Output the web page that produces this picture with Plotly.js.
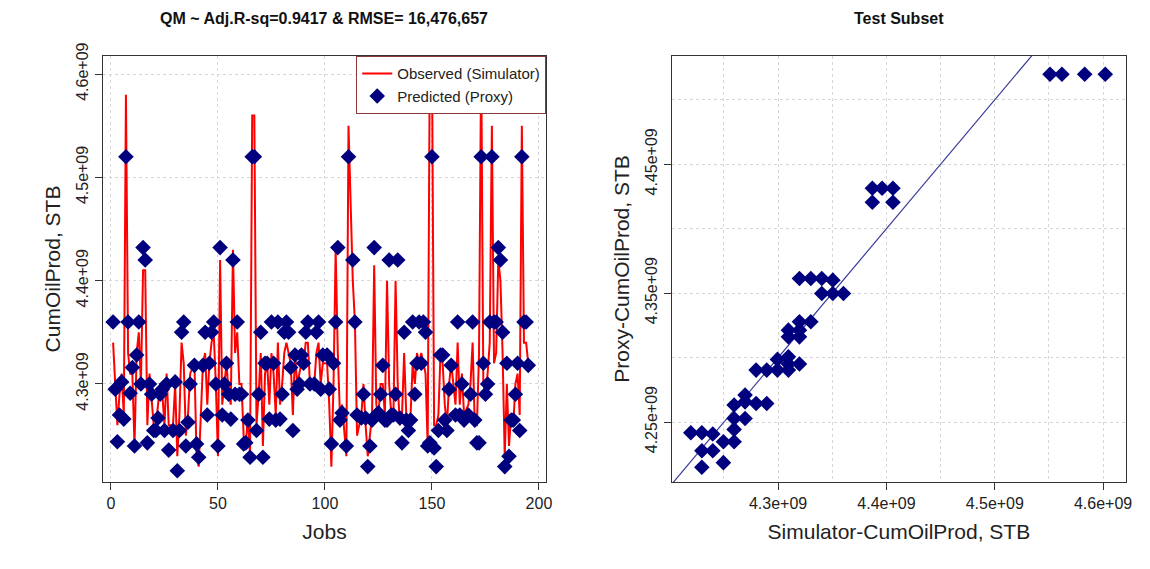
<!DOCTYPE html>
<html>
<head>
<meta charset="utf-8">
<script src="https://cdn.plot.ly/plotly-3.0.1.min.js"></script>
<style>html,body{margin:0;padding:0;background:#fff}#chart{width:1150px;height:569px}</style>
</head>
<body>
<div id="chart"></div>
<script>
// jobs, observed (simulator) and predicted (proxy), in 1e9 STB
const jobs = [1,2,3,4,5,6,7,8,9,10,11,12,13,14,15,16,17,18,19,20,21,22,23,24,25,26,27,29,30,31,32,33,34,35,36,37,39,40,41,43,44,45,46,47,48,49,50,51,52,53,54,55,56,57,58,59,60,61,62,63,64,65,66,67,68,69,70,71,72,73,74,75,76,77,78,79,80,81,82,83,84,85,86,87,88,89,90,91,92,93,95,96,97,98,99,101,102,103,104,105,106,107,108,110,111,113,114,115,117,118,119,120,121,122,123,124,125,126,127,128,129,130,131,132,133,134,135,136,137,138,139,140,141,142,143,144,145,146,147,148,149,150,151,152,153,154,155,156,157,158,159,161,162,163,164,165,167,168,169,170,171,172,173,174,175,176,177,178,179,180,181,182,183,184,185,186,187,188,189,190,191,192,193,194,195];
const observed = [4.34,4.30,4.26,4.29,4.31,4.27,4.58,4.33,4.31,4.31,4.24,4.33,4.35,4.30,4.41,4.41,4.26,4.31,4.28,4.26,4.26,4.28,4.30,4.29,4.26,4.31,4.26,4.26,4.30,4.23,4.27,4.34,4.32,4.25,4.27,4.31,4.32,4.23,4.22,4.32,4.33,4.28,4.32,4.34,4.35,4.30,4.23,4.42,4.28,4.30,4.32,4.29,4.28,4.43,4.33,4.35,4.30,4.30,4.25,4.24,4.27,4.23,4.56,4.56,4.26,4.29,4.33,4.24,4.31,4.32,4.28,4.33,4.31,4.27,4.34,4.28,4.30,4.33,4.34,4.33,4.32,4.27,4.33,4.30,4.31,4.32,4.32,4.34,4.34,4.30,4.30,4.33,4.34,4.30,4.32,4.32,4.28,4.22,4.30,4.43,4.33,4.27,4.28,4.23,4.55,4.40,4.36,4.25,4.27,4.30,4.26,4.23,4.25,4.27,4.415,4.28,4.27,4.30,4.30,4.27,4.40,4.30,4.27,4.27,4.40,4.30,4.26,4.27,4.33,4.27,4.26,4.27,4.32,4.30,4.33,4.32,4.33,4.32,4.31,4.24,4.62,4.62,4.26,4.26,4.27,4.33,4.32,4.28,4.26,4.30,4.32,4.28,4.34,4.28,4.31,4.27,4.28,4.30,4.34,4.26,4.26,4.33,4.62,4.30,4.29,4.31,4.34,4.55,4.32,4.33,4.42,4.40,4.33,4.23,4.30,4.24,4.27,4.26,4.30,4.31,4.27,4.55,4.34,4.34,4.32];
const predicted = [4.36,4.295,4.244,4.27,4.302,4.266,4.52,4.36,4.291,4.316,4.24,4.328,4.36,4.30,4.432,4.42,4.243,4.30,4.29,4.255,4.255,4.267,4.29,4.295,4.255,4.30,4.236,4.255,4.302,4.216,4.255,4.35,4.36,4.24,4.263,4.30,4.318,4.242,4.229,4.318,4.35,4.27,4.32,4.35,4.36,4.30,4.24,4.432,4.27,4.30,4.32,4.29,4.266,4.42,4.29,4.36,4.29,4.29,4.242,4.243,4.265,4.229,4.52,4.52,4.255,4.29,4.35,4.229,4.32,4.32,4.266,4.36,4.32,4.265,4.36,4.266,4.29,4.35,4.36,4.35,4.316,4.255,4.328,4.295,4.30,4.328,4.32,4.35,4.36,4.30,4.30,4.35,4.36,4.295,4.328,4.328,4.295,4.242,4.32,4.36,4.432,4.265,4.272,4.24,4.52,4.42,4.36,4.27,4.267,4.29,4.267,4.22,4.24,4.265,4.432,4.27,4.272,4.29,4.318,4.265,4.265,4.42,4.27,4.27,4.29,4.42,4.267,4.243,4.35,4.265,4.255,4.265,4.36,4.29,4.32,4.36,4.32,4.36,4.35,4.24,4.243,4.52,4.238,4.22,4.255,4.328,4.328,4.265,4.255,4.295,4.318,4.27,4.36,4.27,4.30,4.265,4.27,4.29,4.36,4.265,4.243,4.243,4.52,4.32,4.29,4.30,4.36,4.52,4.36,4.36,4.432,4.42,4.35,4.22,4.32,4.23,4.265,4.265,4.29,4.32,4.255,4.52,4.36,4.36,4.318];

// test subset: simulator vs proxy, in 1e9 STB
const testSim = [4.2194,4.2296,4.2397,4.2296,4.2397,4.2296,4.2495,4.2594,4.2495,4.2594,4.2594,4.2695,4.2594,4.2695,4.2695,4.2797,4.2895,4.2797,4.2895,4.2994,4.2994,4.3095,4.3095,4.3095,4.3197,4.3095,4.3095,4.3197,4.3197,4.3197,4.3302,4.3403,4.3505,4.3603,4.3197,4.3302,4.3403,4.3505,4.387,4.396,4.406,4.387,4.406,4.551,4.562,4.583,4.602];
const testProxy = [4.2417,4.2417,4.2407,4.2278,4.2278,4.2149,4.2347,4.2347,4.2185,4.2443,4.2528,4.2528,4.2632,4.2709,4.2657,4.2644,4.2644,4.2903,4.2903,4.2903,4.2986,4.3006,4.295,4.2903,4.295,4.3213,4.3161,4.3213,4.3161,4.3278,4.3278,4.3497,4.3497,4.3497,4.3614,4.3614,4.3614,4.3601,4.4314,4.4314,4.4314,4.4205,4.4205,4.5198,4.5198,4.5198,4.5198];

const leftYTicks = [4.3, 4.4, 4.5, 4.6];
const rightXTicks = [4.3, 4.4, 4.5, 4.6];
const rightYTicks = [4.25, 4.35, 4.45];
const fmt = v => v.toFixed(2).replace(/0$/, '') + 'e+09';
const e9 = a => a.map(v => v * 1e9);

const navy = '#00007f';
const traces = [
  {x: jobs, y: e9(observed), mode: 'lines', line: {color: '#ff0000', width: 2},
   name: 'Observed (Simulator)', xaxis: 'x', yaxis: 'y'},
  {x: jobs, y: e9(predicted), mode: 'markers', marker: {symbol: 'diamond', size: 12, color: navy},
   name: 'Predicted (Proxy)', xaxis: 'x', yaxis: 'y'},
  {x: [4.2, 4.7].map(v => v * 1e9), y: [4.2, 4.7].map(v => v * 1e9), mode: 'lines',
   line: {color: '#3a3a9a', width: 1.2}, showlegend: false, xaxis: 'x2', yaxis: 'y2'},
  {x: e9(testSim), y: e9(testProxy), mode: 'markers', marker: {symbol: 'diamond', size: 12, color: navy},
   showlegend: false, xaxis: 'x2', yaxis: 'y2'}
];

const grid = '#d6d6d6';
const ax = {
  showline: true, mirror: true, linecolor: '#333', linewidth: 1.2, ticks: 'outside', ticklen: 7,
  tickcolor: '#333', zeroline: false, gridcolor: grid, griddash: 'dot', gridwidth: 1,
  tickfont: {size: 16, color: '#222'}
};
const tfont = {size: 21, color: '#222'};
const font = 'Liberation Sans, Arial, sans-serif';

const layout = {
  width: 1150, height: 569, margin: {l: 0, r: 0, t: 0, b: 0},
  paper_bgcolor: '#fff', plot_bgcolor: '#fff', font: {family: font},
  showlegend: true,
  legend: {x: 0.4748, xanchor: 'right', y: 0.9016, yanchor: 'top', bordercolor: '#8b3a3a', borderwidth: 1.2,
           bgcolor: '#fff', font: {size: 15, color: '#222'}},
  xaxis: Object.assign({}, ax, {domain: [0.0896, 0.4748], range: [-3.7, 203.3],
           tickvals: [0, 50, 100, 150, 200], title: {text: 'Jobs', font: tfont, standoff: 12}}),
  yaxis: Object.assign({}, ax, {domain: [0.1529, 0.9016], range: [4.2051e9, 4.6175e9],
           tickvals: e9(leftYTicks), ticktext: leftYTicks.map(fmt), tickangle: -90,
           title: {text: 'CumOilProd, STB', font: tfont, standoff: 8}}),
  xaxis2: Object.assign({}, ax, {domain: [0.5843, 0.979], range: [4.202e9, 4.621e9], anchor: 'y2',
           tickvals: e9(rightXTicks), ticktext: rightXTicks.map(fmt),
           minor: {dtick: 0.05e9, tick0: 4.25e9, showgrid: true, gridcolor: grid, griddash: 'dot', ticklen: 0},
           title: {text: 'Simulator-CumOilProd, STB', font: tfont, standoff: 12}}),
  yaxis2: Object.assign({}, ax, {domain: [0.1529, 0.9016], range: [4.2035e9, 4.534e9], anchor: 'x2',
           tickvals: e9(rightYTicks), ticktext: rightYTicks.map(fmt), tickangle: -90,
           minor: {dtick: 0.05e9, tick0: 4.2e9, showgrid: true, gridcolor: grid, griddash: 'dot', ticklen: 0},
           title: {text: 'Proxy-CumOilProd, STB', font: tfont, standoff: 8}}),
  annotations: [
    {text: '<b>QM ~ Adj.R-sq=0.9417 &amp; RMSE= 16,476,657</b>', xref: 'paper', yref: 'paper',
     x: 0.282, y: 0.968, xanchor: 'center', yanchor: 'middle', showarrow: false, font: {size: 16, color: '#111'}},
    {text: '<b>Test Subset</b>', xref: 'paper', yref: 'paper',
     x: 0.7817, y: 0.968, xanchor: 'center', yanchor: 'middle', showarrow: false, font: {size: 16, color: '#111'}}
  ]
};

Plotly.newPlot('chart', traces, layout, {staticPlot: true});
</script>
</body>
</html>
